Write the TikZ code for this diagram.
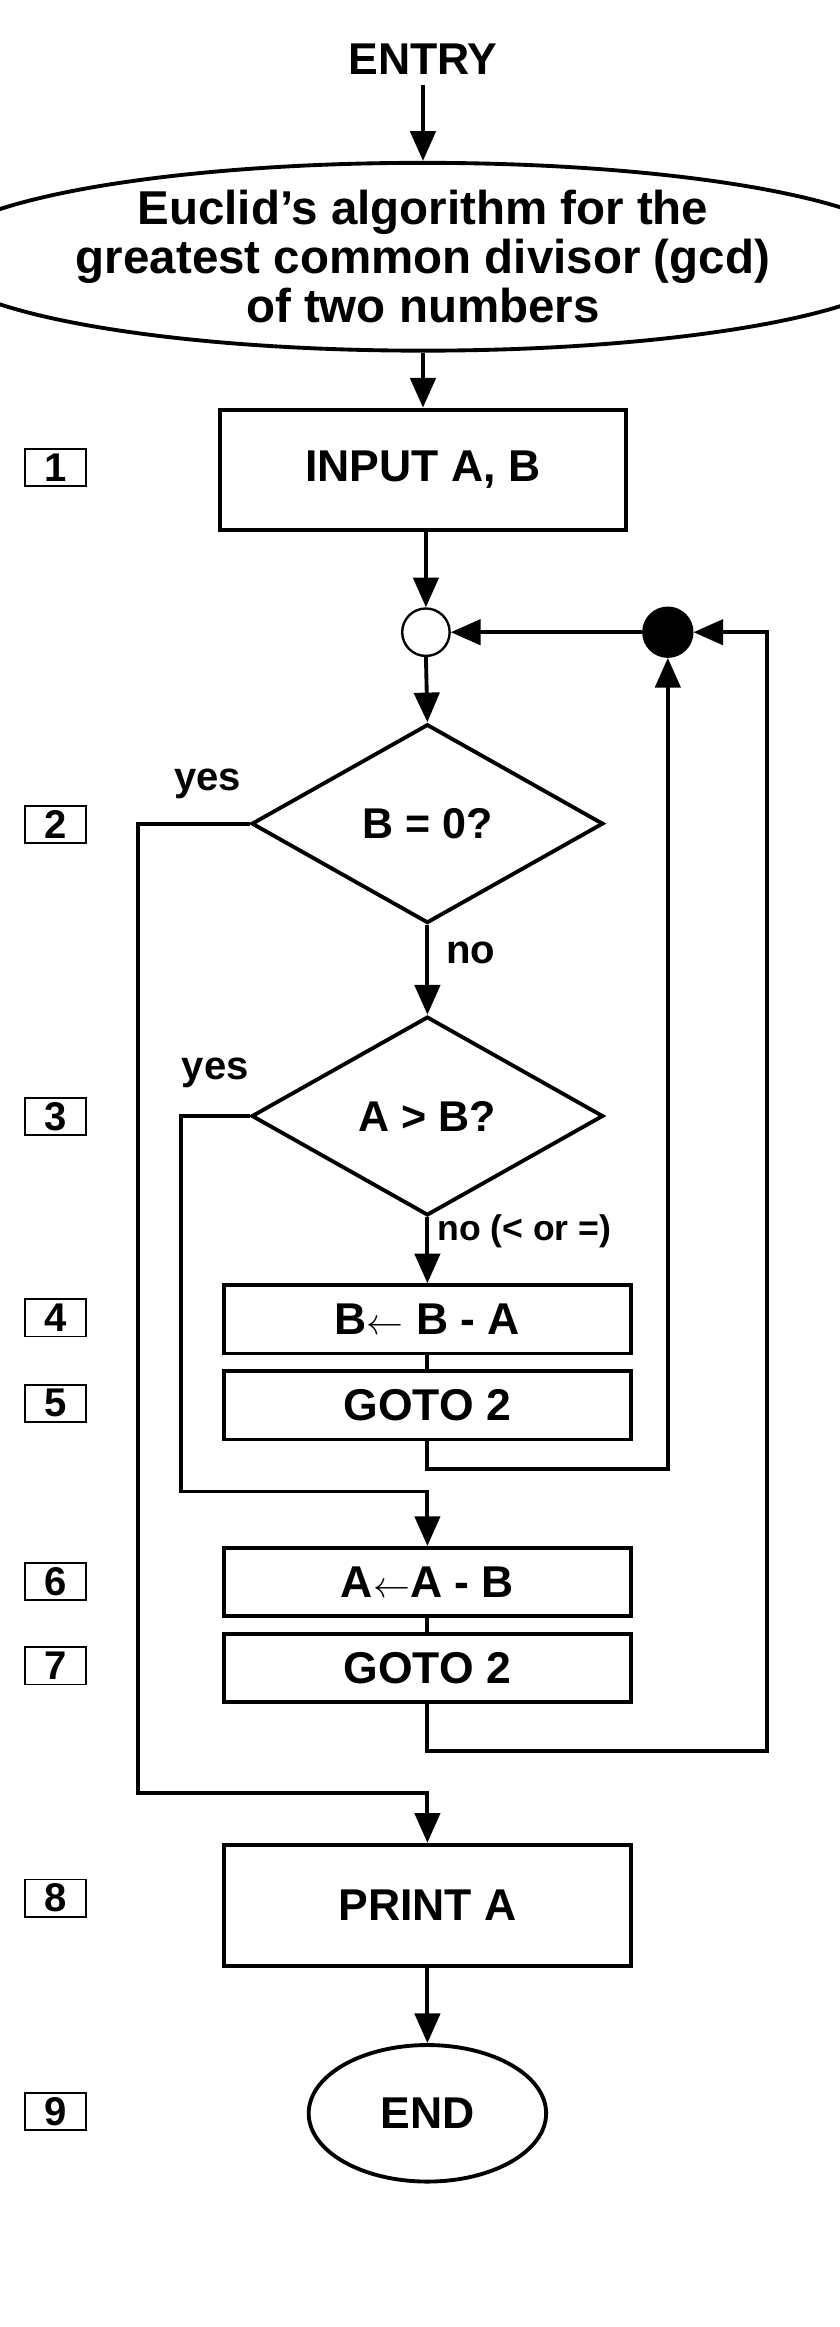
\documentclass[tikz,border=0pt]{standalone}
\usepackage{fontspec}
\setmainfont{Liberation Sans}
\usetikzlibrary{arrows.meta,shapes.geometric}
\begin{document}
\begin{tikzpicture}[x=1pt,y=-1pt,
  line width=2.6pt,
  every node/.style={font=\bfseries},
  arr/.style={-{Triangle[length=20pt,width=17pt]}},
  proc/.style={draw,minimum width=274pt,inner sep=0pt,font=\fontsize{30}{34}\bfseries\selectfont},
  num/.style={draw,line width=1.2pt,minimum width=41pt,minimum height=25pt,inner sep=0pt,font=\fontsize{27}{28}\bfseries\selectfont},
  lbl/.style={font=\fontsize{27}{30}\bfseries\selectfont},
  dec/.style={draw,diamond,aspect=1.77,minimum width=237pt,minimum height=134pt,inner sep=0pt,font=\fontsize{29}{32}\bfseries\selectfont}]
\useasboundingbox (0,0) rectangle (566,1568);
\fill[white] (0,0) rectangle (566,1568);
\node[lbl,font=\fontsize{30}{32}\bfseries\selectfont] (entry) at (285,40) {ENTRY};
\node[draw,ellipse,minimum width=532pt,minimum height=124pt,inner sep=0pt,align=center,font=\fontsize{32}{33}\bfseries\selectfont] (title) at (285,173) {Euclid\char39 s algorithm for the\\greatest common divisor (gcd)\\of two numbers};
\node[proc,minimum height=81pt] (input) at (285,316.5) {INPUT A, B};
\node[draw,circle,minimum size=32pt,inner sep=0pt,line width=1.6pt] (join) at (287,426) {};
\node[draw,circle,fill=black,minimum size=32pt,inner sep=0pt] (dot) at (450,426) {};
\node[dec] (d1) at (288,555) {B = 0?};
\node[dec] (d2) at (288,752) {A > B?};
\node[proc,minimum height=46pt] (b4) at (288,889) {B$\leftarrow$ B - A};
\node[proc,minimum height=46pt] (b5) at (288,947) {GOTO 2};
\node[proc,minimum height=46pt] (b6) at (288,1066) {A$\leftarrow$A - B};
\node[proc,minimum height=46pt] (b7) at (288,1124) {GOTO 2};
\node[proc,minimum height=82pt] (b8) at (288,1284) {PRINT A};
\node[draw,ellipse,minimum width=160pt,minimum height=92pt,inner sep=0pt,font=\fontsize{30}{32}\bfseries\selectfont] (end) at (288,1424) {END};
\foreach \n/\y in {1/315,2/555.5,3/752.5,4/888,5/945.5,6/1065.5,7/1122.5,8/1279,9/1423}
  \node[num] (n\n) at (37.5,\y) {\n};
\node[lbl] (yes1) at (140,528) {yes};
\node[lbl] (yes2) at (145,723) {yes};
\node[lbl,anchor=west] (no1) at (296,642) {no};
\node[lbl,anchor=west,font=\fontsize{24}{26}\bfseries\selectfont] (no2) at (290,830) {no (< or =)};
\coordinate (c1) at (93,1208);
\coordinate (c2) at (122,1005);
\draw[arr] (entry.south -| title.north) ++(0,2) -- (title.north);
\draw[arr] (title.south) -- (input.north -| title.south);
\draw[arr] (input.south -| join) -- (join.north);
\draw[arr] (dot) -- (join);
\draw[arr] (join.south) -- (d1.north);
\draw[arr] (d1.south) -- (d2.north);
\draw[arr] (d2.south) -- (b4.north);
\draw (b4.south) -- (b5.north);
\draw (b6.south) -- (b7.north);
\draw[arr] (b8.south) -- (end.north);
\draw[arr] (d1.west) -| (c1) -| (b8.north);
\draw[arr] (d2.west) -| (c2) -| (b6.north);
\draw[arr] (b5.south) |- (450,990) -- (dot.south);
\draw[arr] (b7.south) |- (517,1180) |- (dot.east);
\end{tikzpicture}
\end{document}
